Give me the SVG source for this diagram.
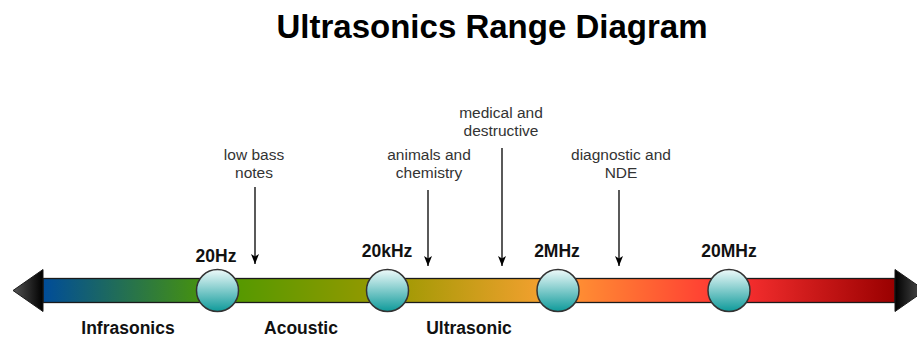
<svg xmlns="http://www.w3.org/2000/svg" width="917" height="338" viewBox="0 0 917 338">
  <defs>
    <style>
      .title { font-family: "Liberation Sans", Arial, sans-serif; font-weight: bold; font-size: 33px; fill: #000; text-anchor: middle; }
      .freq { font-family: "Liberation Sans", Arial, sans-serif; font-weight: bold; font-size: 17.5px; fill: #111; text-anchor: middle; }
      .band { font-family: "Liberation Sans", Arial, sans-serif; font-weight: bold; font-size: 17.5px; fill: #111; text-anchor: middle; }
      .note { font-family: "Liberation Sans", Arial, sans-serif; font-size: 15.5px; fill: #333; text-anchor: middle; }
      .conn { stroke: #000; stroke-width: 1.3; fill: none; marker-end: url(#arr); }
      .marker { fill: url(#circGrad); stroke: #333; stroke-width: 1.5; }
    </style>
    <marker id="arr" viewBox="0 0 10 8" markerWidth="10" markerHeight="8" refX="10" refY="4" orient="auto" markerUnits="userSpaceOnUse">
      <path d="M0,0 L10,4 L0,8 L2.5,4 z" fill="#000"/>
    </marker>
    <linearGradient id="barGrad" gradientUnits="userSpaceOnUse" x1="43" y1="0" x2="895" y2="0">
      <stop offset="0" stop-color="#004C99"/>
      <stop offset="0.2054" stop-color="#4D9900"/>
      <stop offset="0.4038" stop-color="#999900"/>
      <stop offset="0.59" stop-color="#F5A030"/>
      <stop offset="0.6045" stop-color="#FF9933"/>
      <stop offset="0.8052" stop-color="#FF3333"/>
      <stop offset="1" stop-color="#990000"/>
    </linearGradient>
    <linearGradient id="headL" gradientUnits="userSpaceOnUse" x1="13" y1="0" x2="43" y2="0">
      <stop offset="0" stop-color="#555"/>
      <stop offset="1" stop-color="#000"/>
    </linearGradient>
    <linearGradient id="headR" gradientUnits="userSpaceOnUse" x1="895" y1="0" x2="925" y2="0">
      <stop offset="0" stop-color="#000"/>
      <stop offset="1" stop-color="#555"/>
    </linearGradient>
    <linearGradient id="circGrad" x1="0" y1="0" x2="0" y2="1">
      <stop offset="0" stop-color="#EEFAFA"/>
      <stop offset="1" stop-color="#0E9A9A"/>
    </linearGradient>
  </defs>

  <rect width="917" height="338" fill="#fff"/>

  <text class="title" x="492" y="38">Ultrasonics Range Diagram</text>

  <g id="range-bar">
    <rect x="43" y="278.5" width="852" height="24" fill="url(#barGrad)" stroke="#1a1a1a" stroke-width="1.3"/>
    <polygon points="43,269.5 13,290.5 43,311.5" fill="url(#headL)" stroke="#1a1a1a" stroke-width="1"/>
    <polygon points="895,269.5 925,290.5 895,311.5" fill="url(#headR)" stroke="#1a1a1a" stroke-width="1"/>
  </g>

  <g id="connectors">
    <line class="conn" x1="255" y1="187" x2="255" y2="264"/>
    <line class="conn" x1="428" y1="190" x2="428" y2="266"/>
    <line class="conn" x1="502" y1="148" x2="502" y2="266"/>
    <line class="conn" x1="619" y1="190" x2="619" y2="266"/>
  </g>

  <g id="node-20hz">
    <circle class="marker" cx="217.5" cy="290.5" r="21"/>
    <text class="freq" x="216" y="262">20Hz</text>
  </g>
  <g id="node-20khz">
    <circle class="marker" cx="387.5" cy="290.5" r="21"/>
    <text class="freq" x="387" y="257">20kHz</text>
  </g>
  <g id="node-2mhz">
    <circle class="marker" cx="558" cy="290.5" r="21"/>
    <text class="freq" x="557" y="257">2MHz</text>
  </g>
  <g id="node-20mhz">
    <circle class="marker" cx="729" cy="290.5" r="21"/>
    <text class="freq" x="729" y="257">20MHz</text>
  </g>

  <g id="label-low-bass">
    <text class="note" x="254" y="160">low bass</text>
    <text class="note" x="254" y="178">notes</text>
  </g>
  <g id="label-animals">
    <text class="note" x="429" y="160">animals and</text>
    <text class="note" x="429" y="178">chemistry</text>
  </g>
  <g id="label-medical">
    <text class="note" x="501" y="118">medical and</text>
    <text class="note" x="501" y="136">destructive</text>
  </g>
  <g id="label-diagnostic">
    <text class="note" x="621" y="160">diagnostic and</text>
    <text class="note" x="621" y="178">NDE</text>
  </g>

  <g id="band-labels">
    <text class="band" x="128" y="334">Infrasonics</text>
    <text class="band" x="301" y="334">Acoustic</text>
    <text class="band" x="469" y="334">Ultrasonic</text>
  </g>
</svg>
